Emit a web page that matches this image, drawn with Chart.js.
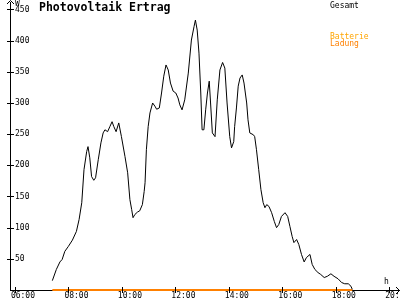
<!DOCTYPE html>
<html>
<head>
<meta charset="utf-8">
<script src="https://cdn.jsdelivr.net/npm/chart.js@4/dist/chart.umd.min.js"></script>
<style>
  body { margin: 0; background: #fff; }
  canvas { display: block; }
</style>
</head>
<body>
<canvas id="myChart" width="400" height="300"></canvas>
<script>
// Gesamt (W) over the day
var times = [
  "07:24","07:33","07:41","07:46","07:52",
  "08:00","08:09","08:18","08:24","08:30","08:35","08:41","08:44","08:48","08:52","08:57",
  "09:01","09:07","09:13","09:18","09:22","09:28","09:33","09:38","09:42","09:47","09:53","09:59",
  "10:07","10:13","10:18","10:22","10:25","10:29","10:35","10:40","10:46","10:50","10:52","10:55","10:59",
  "11:03","11:09","11:14","11:18","11:24","11:29","11:34","11:39","11:44","11:49","11:55",
  "12:01","12:06","12:10","12:15","12:21","12:29","12:36","12:42","12:45","12:49","12:53","12:57",
  "13:00","13:04","13:08","13:12","13:16","13:19","13:23","13:29","13:34","13:40","13:46","13:51","13:56",
  "14:02","14:06","14:11","14:13","14:17","14:21","14:25","14:30","14:34","14:40","14:43","14:47","14:55","14:58",
  "15:02","15:07","15:12","15:17","15:21","15:25","15:30","15:36","15:42","15:47","15:52","15:58",
  "16:06","16:12","16:17","16:22","16:26","16:32","16:37","16:43","16:49","16:54",
  "17:02","17:07","17:13","17:20","17:26","17:34","17:41","17:49","17:56",
  "18:05","18:13","18:20","18:28","18:34","18:37"
];
var gesamt = [
  15, 33, 45, 49, 62,
  70, 80, 94, 113, 140, 193, 222, 230, 212, 182, 176,
  180, 209, 236, 252, 257, 254, 262, 270, 262, 254, 268, 246,
  214, 188, 145, 129, 116, 121, 125, 127, 137, 158, 172, 225, 262,
  284, 300, 295, 290, 292, 316, 343, 361, 353, 332, 319,
  316, 308, 297, 289, 305, 348, 401, 423, 433, 417, 380, 316,
  257, 257, 289, 316, 335, 300, 252, 246, 305, 353, 365, 356, 300,
  246, 228, 238, 262, 292, 327, 340, 345, 332, 300, 273, 252, 249, 246,
  225, 193, 161, 140, 132, 137, 134, 124, 110, 100, 105, 118,
  124, 118, 102, 86, 76, 81, 73, 57, 45, 52,
  57, 41, 33, 28, 25, 20, 22, 26, 22,
  18, 12, 10, 10, 6, 1
];

// Batterie-Ladung
var ladungTimes = ["07:24", "18:37"];
var ladung = [0, 0];

var xTickLabels = ["06:00", "08:00", "10:00", "12:00", "14:00", "16:00", "18:00", "20:00"];
var yTickLabels = [50, 100, 150, 200, 250, 300, 350, 400, 450];

function toMin(t) {
  var p = t.split(':');
  return +p[0] * 60 + +p[1];
}
function toClock(m) {
  var h = Math.floor(m / 60), mm = m % 60;
  return (h < 10 ? '0' : '') + h + ':' + (mm < 10 ? '0' : '') + mm;
}

var mono = "'DejaVu Sans Mono', monospace";

var axisDeco = {
  id: 'axisDeco',
  afterDraw: function (chart) {
    var ctx = chart.ctx, a = chart.chartArea;
    var x = chart.scales.x, y = chart.scales.y;
    ctx.save();
    ctx.strokeStyle = '#000';
    ctx.lineWidth = 1;
    ctx.beginPath();
    x.ticks.forEach(function (t) {
      var px = Math.round(x.getPixelForValue(t.value)) + 0.5;
      ctx.moveTo(px, a.bottom - 3);
      ctx.lineTo(px, a.bottom + 3);
    });
    y.ticks.forEach(function (t) {
      var py = Math.round(y.getPixelForValue(t.value)) + 0.5;
      ctx.moveTo(a.left - 3, py);
      ctx.lineTo(a.left + 4, py);
    });
    // arrow heads
    var lx = a.left + 0.5, by = a.bottom + 0.5;
    ctx.moveTo(lx - 3.5, a.top + 2);
    ctx.lineTo(lx, a.top - 1.5);
    ctx.lineTo(lx + 3.5, a.top + 2);
    ctx.moveTo(a.right - 4, by - 3.5);
    ctx.lineTo(a.right - 0.5, by);
    ctx.lineTo(a.right - 4, by + 3.5);
    ctx.stroke();

    ctx.textBaseline = 'alphabetic';
    ctx.textAlign = 'left';
    ctx.fillStyle = '#000';
    ctx.font = 'bold 11.5px ' + mono;
    ctx.fillText('Photovoltaik Ertrag', 39, 11);
    ctx.font = '8px ' + mono;
    ctx.fillText('W', 15, 6);
    ctx.fillText('h', 384, 284);
    ctx.fillText('Gesamt', 330, 8);
    ctx.fillStyle = '#ffa500';
    ctx.fillText('Batterie', 330, 39);
    ctx.fillStyle = '#ff8000';
    ctx.fillText('Ladung', 330, 46);
    ctx.restore();
  }
};

var ctx = document.getElementById('myChart');
var myChart = new Chart(ctx, {
  type: 'line',
  data: {
    datasets: [{
      label: 'Gesamt',
      data: times.map(function (t, i) { return { x: toMin(t), y: gesamt[i] }; }),
      borderColor: '#000',
      borderWidth: 1,
      pointRadius: 0,
      tension: 0
    }, {
      label: 'Ladung',
      data: ladungTimes.map(function (t, i) { return { x: toMin(t), y: ladung[i] }; }),
      borderColor: '#ff8000',
      borderWidth: 2,
      pointRadius: 0,
      clip: 3
    }]
  },
  options: {
    responsive: false,
    animation: false,
    layout: { padding: { top: 2, left: 0, right: 0, bottom: 0 } },
    plugins: {
      legend: { display: false },
      tooltip: { enabled: false },
      title: { display: false }
    },
    scales: {
      x: {
        type: 'linear',
        min: 349,
        max: 1224,
        grid: { display: false, drawTicks: false },
        border: { display: true, color: '#000', width: 1 },
        afterBuildTicks: function (scale) {
          scale.ticks = xTickLabels.map(function (l) { return { value: toMin(l) }; });
        },
        afterFit: function (scale) {
          scale.height = 10;
          scale.paddingLeft = 0;
          scale.paddingRight = 0;
        },
        ticks: {
          autoSkip: false,
          maxRotation: 0,
          align: 'start',
          labelOffset: -4,
          padding: 2,
          color: '#000',
          font: { family: mono, size: 8, lineHeight: 1 },
          callback: function (v) { return toClock(v); }
        }
      },
      y: {
        min: 0,
        max: 462,
        grid: { display: false, drawTicks: false },
        border: { display: true, color: '#000', width: 1 },
        afterBuildTicks: function (scale) {
          scale.ticks = yTickLabels.map(function (v) { return { value: v }; });
        },
        afterFit: function (scale) {
          scale.width = 10;
          scale.paddingTop = 0;
          scale.paddingBottom = 0;
        },
        ticks: {
          mirror: true,
          padding: 5,
          color: '#000',
          font: { family: mono, size: 8 }
        }
      }
    }
  },
  plugins: [axisDeco]
});
</script>
</body>
</html>
